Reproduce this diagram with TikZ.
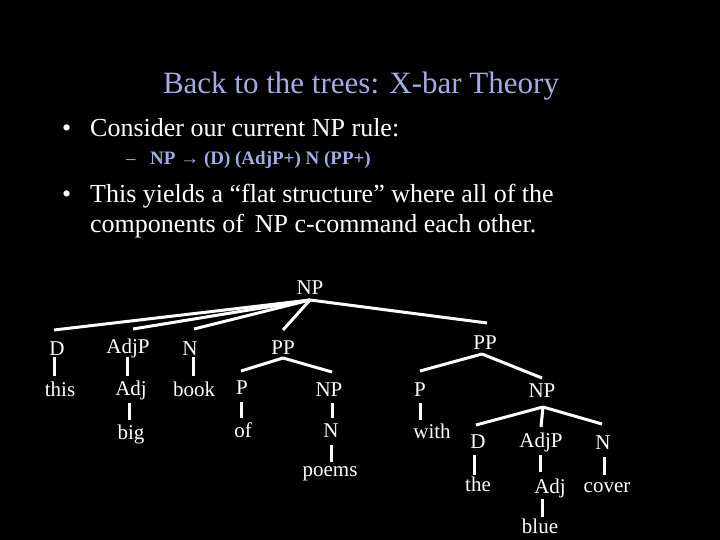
\documentclass[tikz,border=0pt]{standalone}
\usepackage{fontspec}
\setmainfont{Liberation Serif}
\begin{document}
\begin{tikzpicture}[x=1pt,y=-1pt,
  lab/.style={text=white,font=\fontsize{21}{21}\selectfont,inner sep=0pt,anchor=center},
  br/.style={draw=white,line width=3pt},
  tx/.style={text=white,inner sep=0pt,anchor=base west}]
\fill[black] (0,0) rectangle (720,540);
\useasboundingbox (0,0) rectangle (720,540);
\definecolor{ttl}{RGB}{165,172,225}
\node[tx,text=ttl,anchor=base,font=\fontsize{31}{31}\selectfont] (title) at (361,94) {Back to the trees: X-bar Theory};
\node[tx,font=\fontsize{26}{26}\selectfont] (b1d) at (62,137) {•};
\node[tx,font=\fontsize{26}{26}\selectfont] (b1) at (90,137) {Consider our current NP rule:};
\node[tx,text=ttl,font=\fontsize{19}{19}\selectfont] (s1d) at (126,165) {–};
\node[tx,text=ttl,font=\bfseries\fontsize{19}{19}\selectfont] (s1) at (150,165) {NP → (D) (AdjP+) N (PP+)};
\node[tx,font=\fontsize{26}{26}\selectfont] (b2d) at (62,203) {•};
\node[tx,font=\fontsize{26}{26}\selectfont] (b2) at (90,203) {This yields a “flat structure” where all of the};
\node[tx,font=\fontsize{26}{26}\selectfont] (b2b) at (90,233) {components of\, NP c-command each other.};
% tree labels
\node[lab] (np) at (310,288) {NP};
\node[lab] (d) at (57,349) {D};
\node[lab] (adjp) at (128,348) {AdjP};
\node[lab] (n) at (190,349) {N};
\node[lab] (pp1) at (283,348) {PP};
\node[lab] (pp2) at (485,343) {PP};
\node[lab] (this) at (60,389) {this};
\node[lab] (adj) at (131,390) {Adj};
\node[lab] (big) at (131,434) {big};
\node[lab] (book) at (194,389) {book};
\node[lab] (p1) at (242,388) {P};
\node[lab] (of) at (243,430) {of};
\node[lab] (np1) at (329,390) {NP};
\node[lab] (n1) at (331,431) {N};
\node[lab] (poems) at (330,474) {poems};
\node[lab] (p2) at (420,390) {P};
\node[lab] (with) at (432,431) {with};
\node[lab] (np2) at (542,391) {NP};
\node[lab] (d2) at (478,442) {D};
\node[lab] (adjp2) at (541,442) {AdjP};
\node[lab] (n2) at (603,443) {N};
\node[lab] (the) at (478,484) {the};
\node[lab] (adj2) at (550,488) {Adj};
\node[lab] (cover) at (607,488) {cover};
\node[lab] (blue) at (540,526) {blue};
% coordinates
\coordinate (a0) at (310,300);
\coordinate (a1) at (283,358);
\coordinate (a2) at (482,354);
\coordinate (a3) at (543,407);
\draw[br] (a0) -- (54,330);
\draw[br] (a0) -- (133,329);
\draw[br] (a0) -- (194,329);
\draw[br] (a0) -- (283,330);
\draw[br] (a0) -- (487,323);
\draw[br] (a1) -- (241,371);
\draw[br] (a1) -- (332,372);
\draw[br] (a2) -- (420,371);
\draw[br] (a2) -- (542,378);
\draw[br] (a3) -- (476,425);
\draw[br] (a3) -- (541,427);
\draw[br] (a3) -- (602,424);
\draw[br] (54,357) -- (54,376);
\draw[br] (127,357) -- (127,376);
\draw[br] (129,403) -- (129,420);
\draw[br] (193,357) -- (193,376);
\draw[br] (241,402) -- (241,418);
\draw[br] (332,403) -- (332,418);
\draw[br] (331,445) -- (331,462);
\draw[br] (420,403) -- (420,420);
\draw[br] (474,455) -- (474,475);
\draw[br] (540,455) -- (540,472);
\draw[br] (604,457) -- (604,475);
\draw[br] (542,499) -- (542,517);
\end{tikzpicture}
\end{document}
